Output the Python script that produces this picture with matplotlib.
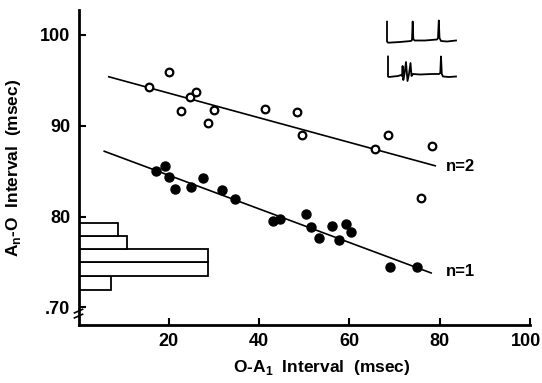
import matplotlib
matplotlib.use("Agg")
import matplotlib.pyplot as plt
import matplotlib.transforms as mtransforms
import numpy as np

plt.rcParams['font.family'] = ['Liberation Sans', 'DejaVu Sans']
plt.rcParams['font.weight'] = 'bold'

# n=2 (open circles)
n2_x = [15.7, 20.1, 22.8, 24.6, 26.0, 28.7, 30.1, 41.2, 48.5, 49.6, 65.6, 68.5, 78.3, 75.8]
n2_y = [94.3, 95.9, 91.6, 93.2, 93.7, 90.3, 91.7, 91.8, 91.5, 89.0, 87.4, 89.0, 87.8, 82.0]
# n=1 (filled circles)
n1_x = [17.2, 19.1, 20.1, 21.4, 24.9, 27.6, 31.8, 34.7, 43.0, 44.7, 50.4, 51.6, 53.2,
        56.2, 57.8, 59.2, 60.4, 69.1, 75.0]
n1_y = [85.0, 85.6, 84.4, 83.0, 83.3, 84.2, 82.9, 81.9, 79.5, 79.7, 80.3, 78.9, 77.6,
        79.0, 77.4, 79.2, 78.3, 74.5, 74.5]
# fitted lines (end points)
fit2_x = [6.7, 79.0]
fit2_y = [95.4, 85.6]
fit1_x = [5.7, 78.1]
fit1_y = [87.2, 73.8]
# histogram (horizontal)
hist_edges = [71.9, 73.5, 75.0, 76.45, 77.9, 79.35]
hist_widths = [7.2, 28.6, 28.6, 10.8, 8.75]

xticks = [20, 40, 60, 80, 100]
yticks = [70, 80, 90, 100]
ytick_labels = ['.70', '80', '90', '100']

# inset traces (inset drawing units)
tr1_x = [387, 387, 388, 400, 411, 412, 412.7, 413.3, 414.5, 425, 437, 438, 438.8, 439.5, 441, 447, 456]
tr1_y = [21.7, 41.5, 42.7, 42, 41, 40, 21.5, 39, 40.5, 40.5, 39.5, 38, 20.5, 38, 41, 41.5, 40.5]
tr2_x = [388, 388, 389, 398, 401, 402, 402.6, 403.3, 404.5, 406, 407.5, 409, 410.5, 411.5, 413,
         420, 432, 439, 440.3, 441, 441.8, 443, 449, 456]
tr2_y = [56.5, 76.5, 77, 76, 75, 76, 66, 80, 74, 62, 81, 74, 63, 76, 74,
         74.5, 74, 74, 73, 56.5, 74, 76.5, 77, 76.5]

fig = plt.figure(figsize=(5.42, 3.83), dpi=100)
ax = fig.add_axes([78.5/542, 1-325/383, (530-78.5)/542, (325-10)/383])
ax.set_xlim(0, 100)
ax.set_ylim(68.07, 102.75)

# histogram
for i, w in enumerate(hist_widths):
    lo, hi = hist_edges[i], hist_edges[i+1]
    ax.barh(lo, w, height=hi-lo, align='edge', facecolor='white',
            edgecolor='black', linewidth=1.3, zorder=2)

ax.plot(fit2_x, fit2_y, color='black', lw=1.2, zorder=3)
ax.plot(fit1_x, fit1_y, color='black', lw=1.2, zorder=3)
ax.plot(n2_x, n2_y, 'o', mfc='white', mec='black', mew=1.6, ms=5.5, zorder=4)
ax.plot(n1_x, n1_y, 'o', color='black', ms=6.5, zorder=4)

ax.text(81.3, 85.5, 'n=2', fontsize=12, fontweight='bold', va='center', ha='left')
ax.text(81.3, 74.0, 'n=1', fontsize=12, fontweight='bold', va='center', ha='left')

for s in ['top', 'right']:
    ax.spines[s].set_visible(False)
for s in ['left', 'bottom']:
    ax.spines[s].set_linewidth(2.0)

ax.set_xticks(xticks)
ax.set_yticks(yticks)
ax.set_yticklabels(ytick_labels)
ax.tick_params(direction='in', length=5, width=1.5, labelsize=13, pad=6)
for lab in ax.get_xticklabels() + ax.get_yticklabels():
    lab.set_fontweight('bold')
# nudge the last x tick label so it stays inside the figure
last = ax.get_xticklabels()[-1]
last.set_transform(last.get_transform() + mtransforms.ScaledTranslation(-4/100, 0, fig.dpi_scale_trans))

ax.set_xlabel('O-A$_\\mathregular{1}$  Interval  (msec)', fontsize=12.5, fontweight='bold')
ax.xaxis.set_label_coords(0.54, -33/315)
ax.set_ylabel('A$_\\mathregular{n}$-O  Interval  (msec)', fontsize=12.5, fontweight='bold')
ax.yaxis.set_label_coords(-55/451.5, 0.5)

# axis break mark on y axis
for dy in [0.0, 0.55]:
    ax.plot([-0.9, 0.9], [68.85 + dy, 69.25 + dy], color='black', lw=1.2, clip_on=False, zorder=5)

# inset traces
ins = fig.add_axes([380/542, 1-85/383, 82/542, 70/383])
ins.set_xlim(380, 462)
ins.set_ylim(85, 15)
ins.axis('off')
ins.plot(tr1_x, tr1_y, color='black', lw=1.3)
ins.plot(tr2_x, tr2_y, color='black', lw=1.3)

fig.savefig('out.png', dpi=100)
